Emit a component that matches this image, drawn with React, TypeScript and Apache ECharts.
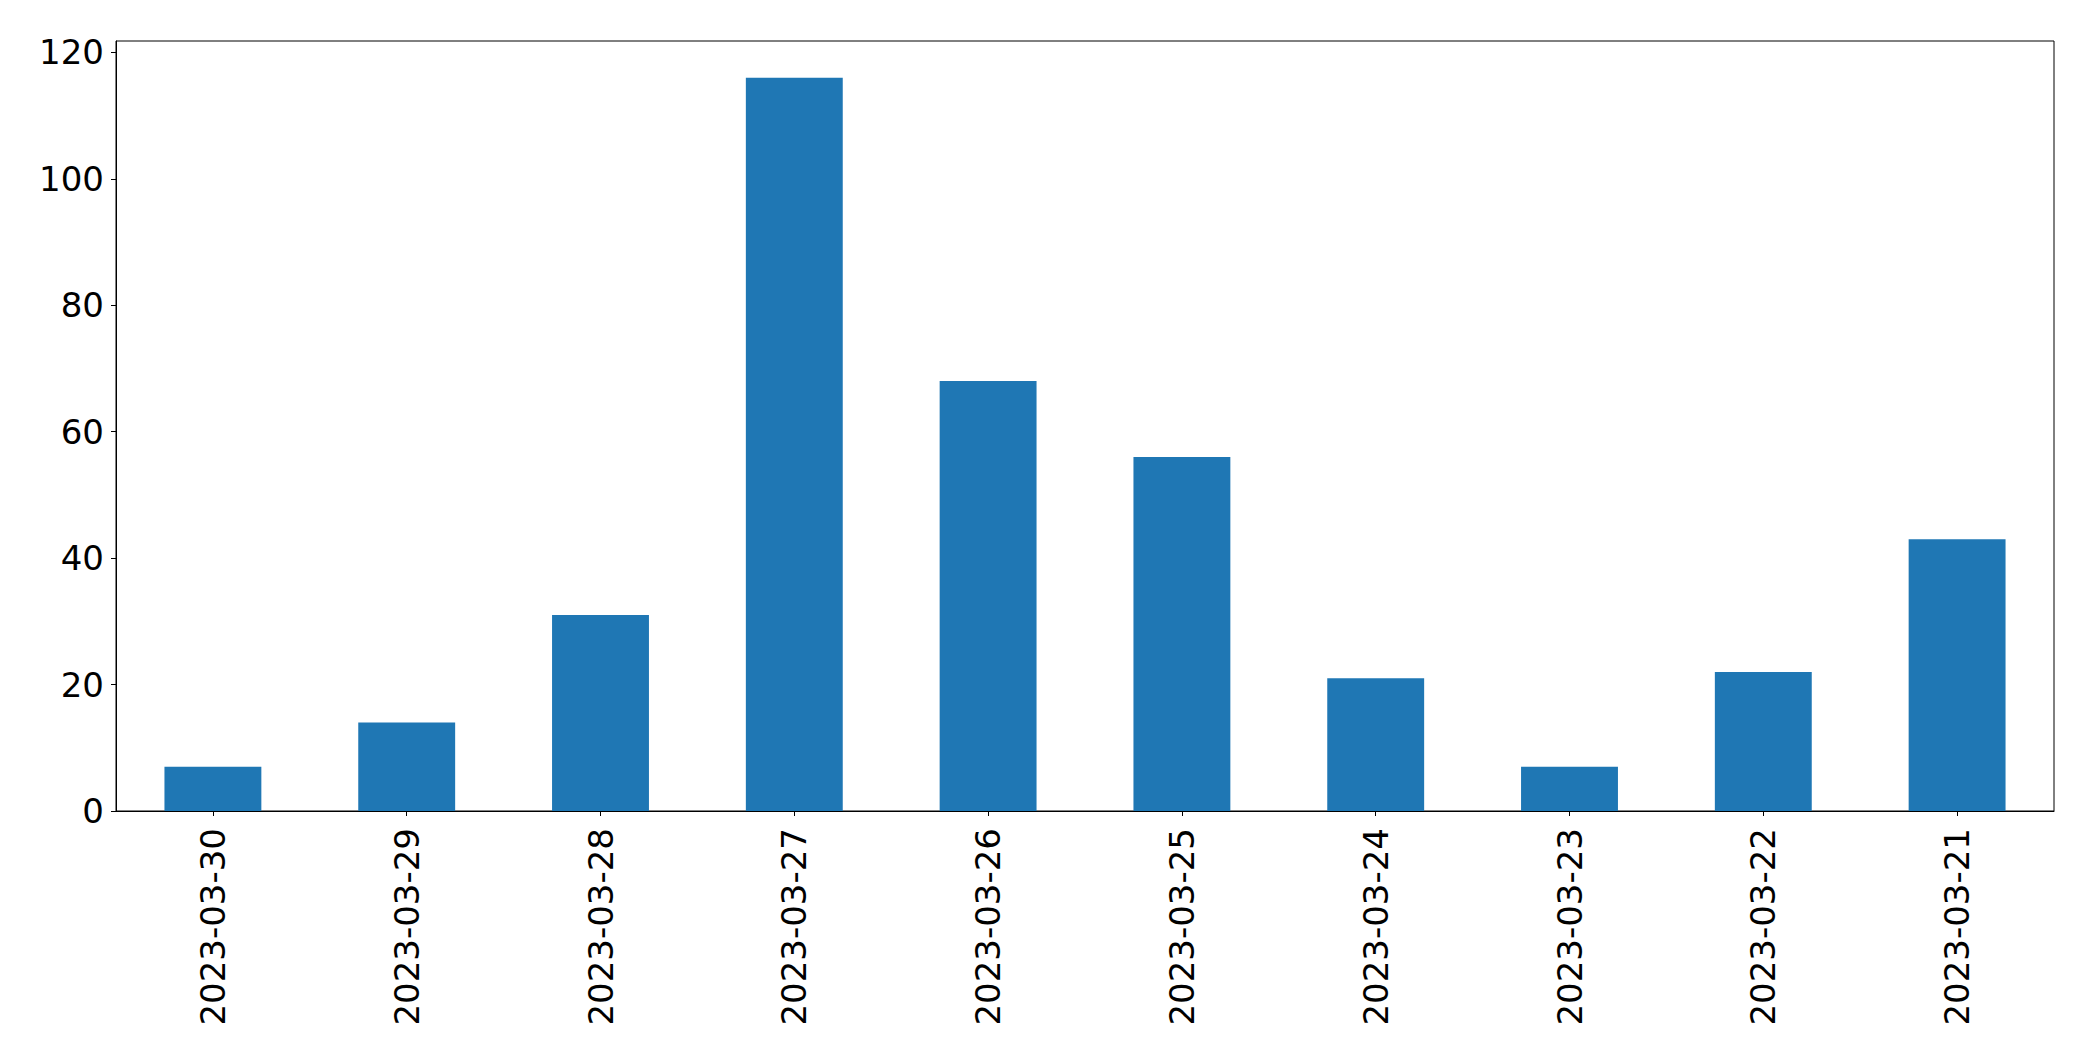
import React, { useEffect, useRef } from "react";
import * as echarts from "echarts";

const categories = [
  "2023-03-30",
  "2023-03-29",
  "2023-03-28",
  "2023-03-27",
  "2023-03-26",
  "2023-03-25",
  "2023-03-24",
  "2023-03-23",
  "2023-03-22",
  "2023-03-21",
];
const values = [7, 14, 31, 116, 68, 56, 21, 7, 22, 43];
const yTicks = [0, 20, 40, 60, 80, 100, 120];

export default function App() {
  const ref = useRef<HTMLDivElement>(null);
  useEffect(() => {
    if (!ref.current) return;
    const chart = echarts.init(ref.current, null, { renderer: "svg" });
    const font = "DejaVu Sans";
    chart.setOption({
      animation: false,
      backgroundColor: "#ffffff",
      grid: {
        left: 116,
        right: 39,
        top: 41,
        bottom: 252,
        show: true,
        borderColor: "#000000",
        borderWidth: 1,
        backgroundColor: "transparent",
      },
      xAxis: {
        type: "category",
        data: categories,
        boundaryGap: true,
        axisLine: { show: true, lineStyle: { color: "#000000", width: 1 } },
        axisTick: {
          show: true,
          alignWithLabel: true,
          length: 5,
          lineStyle: { color: "#000000", width: 1 },
        },
        axisLabel: {
          rotate: 90,
          margin: 17,
          color: "#000000",
          fontFamily: font,
          fontSize: 34,
          interval: 0,
        },
        splitLine: { show: false },
      },
      yAxis: {
        type: "value",
        min: 0,
        max: 121.8,
        axisLine: { show: true, lineStyle: { color: "#000000", width: 1 } },
        axisTick: {
          show: true,
          length: 5,
          customValues: yTicks,
          lineStyle: { color: "#000000", width: 1 },
        },
        axisLabel: {
          margin: 12,
          color: "#000000",
          fontFamily: font,
          fontSize: 34,
          customValues: yTicks,
        },
        splitLine: { show: false },
      },
      series: [
        {
          type: "bar",
          data: values,
          barWidth: "50%",
          itemStyle: { color: "#1f77b4" },
        },
      ],
    });
    return () => chart.dispose();
  }, []);
  return (
    <div
      ref={ref}
      style={{ position: "fixed", left: 0, top: 0, width: 2093, height: 1063 }}
    />
  );
}
